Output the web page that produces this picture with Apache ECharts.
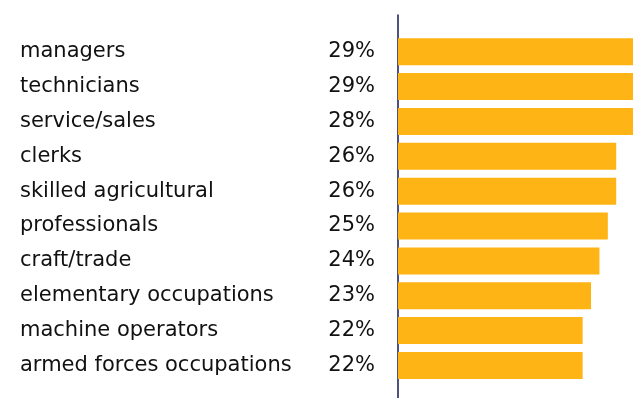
<!DOCTYPE html>
<html>
<head>
<meta charset="utf-8">
<script src="https://cdn.jsdelivr.net/npm/echarts@6/dist/echarts.min.js"></script>
<style>
  html, body { margin: 0; padding: 0; background: #ffffff; }
  #chart { width: 633px; height: 398px; }
</style>
</head>
<body>
<div id="chart"></div>
<script>
// Share by occupation group (percent), listed top to bottom
const categories = [
  'managers',
  'technicians',
  'service/sales',
  'clerks',
  'skilled agricultural',
  'professionals',
  'craft/trade',
  'elementary occupations',
  'machine operators',
  'armed forces occupations'
];
const shares = [29, 29, 28, 26, 26, 25, 24, 23, 22, 22];

const FONT = '"DejaVu Sans", sans-serif';
const BAR_COLOR = '#FDB414';
const AXIS_COLOR = '#141a50';

const chart = echarts.init(document.getElementById('chart'), null, { renderer: 'canvas' });

chart.setOption({
  backgroundColor: '#ffffff',
  animation: false,
  grid: [
    // bars
    { left: 398, right: 0, top: 34.3, bottom: 15.1, containLabel: false },
    // full-height baseline rule
    { left: 398, right: 0, top: 15, bottom: 0, containLabel: false }
  ],
  xAxis: [
    { gridIndex: 0, type: 'value', min: 0, max: 28, show: false },
    { gridIndex: 1, type: 'value', min: 0, max: 1, show: false }
  ],
  yAxis: [
    {
      gridIndex: 0,
      type: 'category',
      data: categories,
      inverse: true,
      axisLine: { show: false },
      axisTick: { show: false },
      splitLine: { show: false },
      axisLabel: {
        align: 'left',
        margin: 378,
        padding: [3, 0, 0, 0],
        color: '#111111',
        fontFamily: FONT,
        fontSize: 21
      }
    },
    {
      gridIndex: 1,
      type: 'value',
      min: 0,
      max: 1,
      axisLine: { show: true, lineStyle: { color: AXIS_COLOR, width: 1.5 } },
      axisTick: { show: false },
      axisLabel: { show: false },
      splitLine: { show: false }
    }
  ],
  series: [
    {
      type: 'bar',
      xAxisIndex: 0,
      yAxisIndex: 0,
      data: shares,
      barWidth: 27,
      clip: true,
      itemStyle: { color: BAR_COLOR },
      label: {
        show: true,
        position: 'left',
        distance: 23,
        padding: [3, 0, 0, 0],
        formatter: '{c}%',
        color: '#111111',
        fontFamily: FONT,
        fontSize: 21
      }
    }
  ]
});
</script>
</body>
</html>
